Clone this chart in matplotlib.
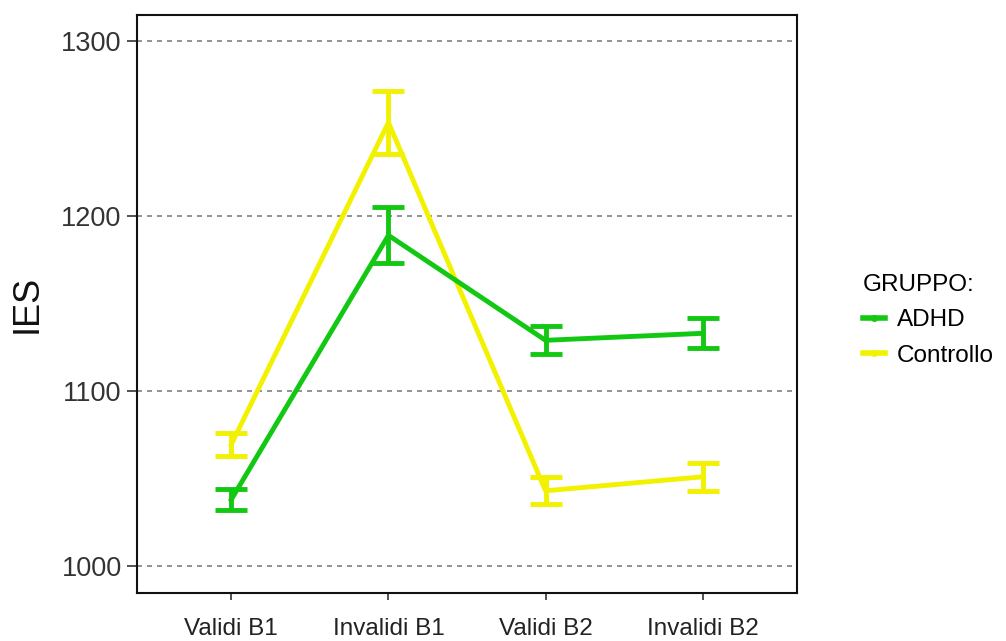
import matplotlib
matplotlib.use("Agg")
import matplotlib.pyplot as plt
from matplotlib.lines import Line2D

categories = ["Validi B1", "Invalidi B1", "Validi B2", "Invalidi B2"]
groups = ["ADHD", "Controllo"]
adhd_mean = [1038, 1189, 1129, 1133]
adhd_err = [6, 16, 8, 8.5]
ctrl_mean = [1069.5, 1253.5, 1043, 1051]
ctrl_err = [6.5, 18, 7.7, 8]
yticks = [1000, 1100, 1200, 1300]

colors = {"ADHD": "#12C812", "Controllo": "#F2F200"}

plt.rcParams['font.family'] = ['Liberation Sans', 'DejaVu Sans']
fig = plt.figure(figsize=(10.06, 6.41), dpi=100)
L, R, T, B = 137, 797, 15, 593
ax = fig.add_axes([L/1006, 1 - B/641, (R-L)/1006, (B-T)/641])

x = list(range(1, len(categories) + 1))
for name, m, e in [("Controllo", ctrl_mean, ctrl_err), ("ADHD", adhd_mean, adhd_err)]:
    ax.errorbar(x, m, yerr=e, color=colors[name], lw=3.5, elinewidth=3.5,
                capsize=11.5, capthick=3.5, zorder=3 if name == "ADHD" else 2)

for yv in yticks:
    ax.axhline(yv, color="#808080", lw=1.2, ls=(0, (3, 3)), zorder=1)

ax.set_xlim(0.4, 4.6)
ax.set_ylim(984.6, 1314.9)
ax.set_xticks(x)
ax.set_xticklabels(categories, fontsize=17.5, color="#222222")
ax.set_yticks(yticks)
ax.set_yticklabels([str(v) for v in yticks], fontsize=19.5, color="#333333")
ax.tick_params(axis="y", length=7, width=1.2, color="#333333", pad=4)
ax.tick_params(axis="x", length=5, width=1.2, color="#333333", pad=13)
for s in ax.spines.values():
    s.set_linewidth(1.5)
    s.set_color("#111111")
ax.set_ylabel("IES", fontsize=26, labelpad=12, color="#111111")

handles = [Line2D([0], [0], color=colors[g], lw=4, marker="o", markersize=4) for g in groups]
leg = fig.legend(handles, groups, title="GRUPPO:", loc="upper left",
                 bbox_to_anchor=(846/1006, 1 - 257/641), frameon=False,
                 fontsize=17.5, title_fontsize=17.5, handlelength=0.9,
                 handletextpad=0.5, labelspacing=0.55, borderpad=0.2)
leg._legend_box.align = "left"

fig.savefig("out.png", dpi=100)
